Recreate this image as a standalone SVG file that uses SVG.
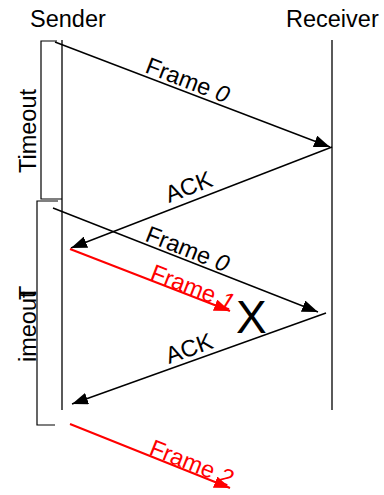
<svg xmlns="http://www.w3.org/2000/svg" width="384" height="495" viewBox="0 0 384 495">
<style>
text{font-family:"Liberation Sans",Arial,sans-serif;font-size:23.5px;fill:#000}
.red{fill:#ff0000}
.life{stroke:#000;stroke-width:1.3;fill:none}
.msg{stroke:#000;stroke-width:1.4;fill:none;marker-end:url(#ah)}
.rmsg{stroke:#ff0000;stroke-width:2;fill:none;marker-end:url(#rah)}
.brk{stroke:#000;stroke-width:1.2;fill:none}
</style>
<defs>
<marker id="ah" markerUnits="userSpaceOnUse" markerWidth="17" markerHeight="12" refX="16" refY="6" orient="auto"><path d="M0,0 L16,6 L0,12 z" fill="#000"/></marker>
<marker id="rah" markerUnits="userSpaceOnUse" markerWidth="17" markerHeight="12" refX="16" refY="6" orient="auto"><path d="M0,0 L16,6 L0,12 z" fill="#ff0000"/></marker>
</defs>
<g id="sender">
<text x="30" y="27">Sender</text>
<line class="life" x1="62" y1="40" x2="62" y2="410"/>
</g>
<g id="receiver">
<text x="286" y="27">Receiver</text>
<line class="life" x1="332" y1="40" x2="332" y2="410"/>
</g>
<g id="timeout1">
<polyline class="brk" points="57,41 41,41 41,199 62,199"/>
<text transform="translate(35.5,173) rotate(-90)">Timeout</text>
</g>
<g id="timeout2">
<polyline class="brk" points="58,201 37,201 37,425 55,425"/>
<text transform="translate(35.5,362) rotate(-90)">imeout</text>
<text transform="translate(35.5,300) rotate(-90)">T</text>
</g>
<g id="connectors">
<line class="msg" x1="55" y1="42" x2="330" y2="147"/>
<line class="msg" x1="332" y1="147" x2="71" y2="248"/>
<line class="msg" x1="53" y1="208" x2="318" y2="312"/>
<line class="rmsg" x1="70" y1="249" x2="230" y2="311"/>
<line class="msg" x1="326" y1="313" x2="72" y2="404"/>
<line class="rmsg" x1="70" y1="424" x2="230" y2="488"/>
</g>
<g id="labels">
<text transform="translate(144,72) rotate(21)">Frame <tspan font-style="italic">0</tspan></text>
<text transform="translate(169,203) rotate(-21.2)">ACK</text>
<text transform="translate(144,240.5) rotate(21.4)">Frame <tspan font-style="italic">0</tspan></text>
<text class="red" transform="translate(149,279) rotate(21.2)">Frame <tspan font-style="italic">1</tspan></text>
<text transform="translate(169,364) rotate(-19.7)">ACK</text>
<text class="red" transform="translate(148,454) rotate(21.8)">Frame <tspan font-style="italic">2</tspan></text>
</g>
<g id="lost">
<text x="236" y="333" style="font-size:46px">X</text>
</g>
</svg>
